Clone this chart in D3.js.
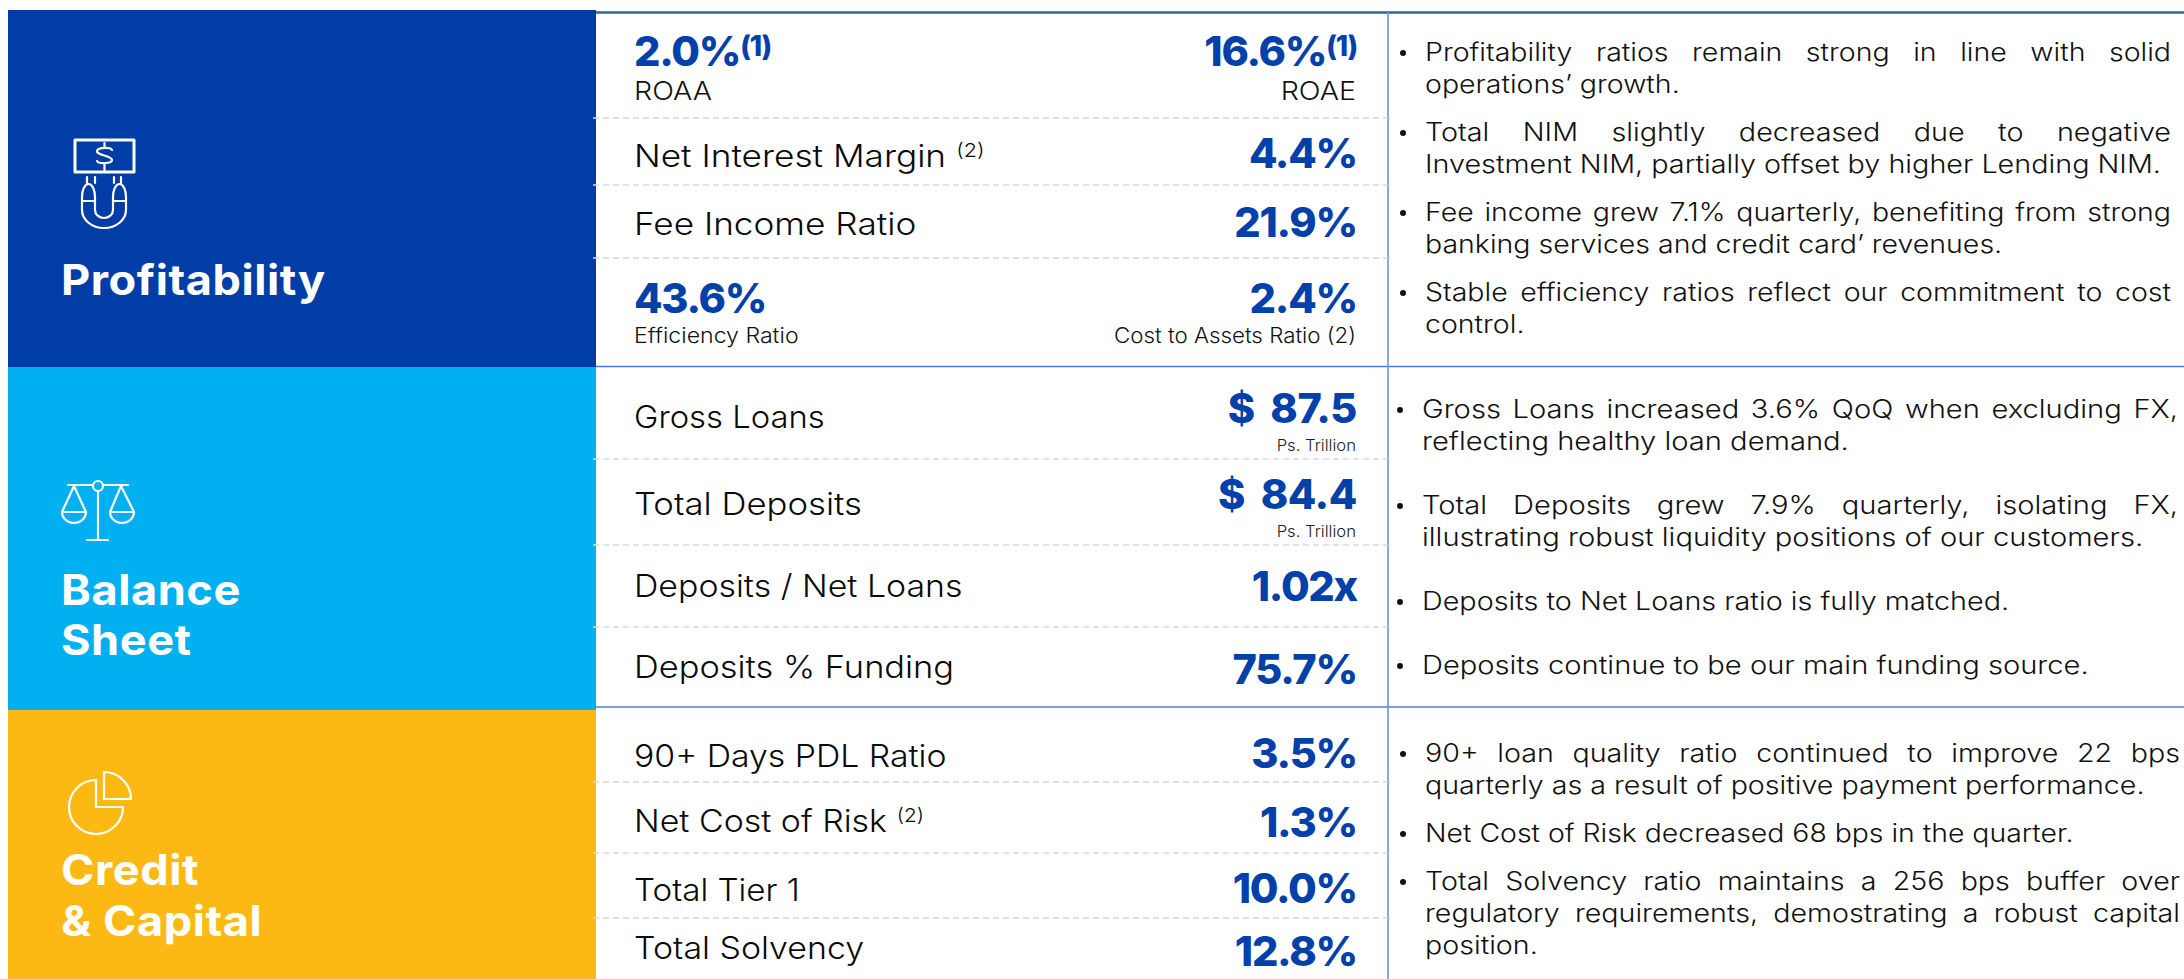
<!DOCTYPE html>
<html><head><meta charset="utf-8">
<script src="https://cdn.jsdelivr.net/npm/d3@7"></script>
<style>
html,body{margin:0;padding:0;background:#fff;overflow:hidden}
svg{display:block}
text{font-family:Inter,"Open Sans",sans-serif}
</style></head><body><svg id="c" width="2184" height="979"></svg>
<script>
// ---------- data ----------
const sectionNames = [["Profitability"], ["Balance", "Sheet"], ["Credit", "& Capital"]];
const metricLabels = ["Net Interest Margin", "Fee Income Ratio", "Gross Loans", "Total Deposits",
  "Deposits / Net Loans", "Deposits % Funding", "90+ Days PDL Ratio", "Net Cost of Risk", "Total Tier 1", "Total Solvency"];
const metricValues = ["4.4%", "21.9%", "$ 87.5", "$ 84.4", "1.02x", "75.7%", "3.5%", "1.3%", "10.0%", "12.8%"];
const metricSups = ["(2)", "", "", "", "", "", "", "(2)", "", ""];
const metricUnits = ["", "", "Ps. Trillion", "Ps. Trillion", "", "", "", "", "", ""];
const stackedValues = ["2.0%", "16.6%", "43.6%", "2.4%"];
const stackedSups = ["(1)", "(1)", "", ""];
const stackedCaptions = ["ROAA", "ROAE", "Efficiency Ratio", "Cost to Assets Ratio (2)"];
const notes = [
  ["Profitability ratios remain strong in line with solid", "operations’ growth."],
  ["Total NIM slightly decreased due to negative", "Investment NIM, partially offset by higher Lending NIM."],
  ["Fee income grew 7.1% quarterly, benefiting from strong", "banking services and credit card’ revenues."],
  ["Stable efficiency ratios reflect our commitment to cost", "control."],
  ["Gross Loans increased 3.6% QoQ when excluding FX,", "reflecting healthy loan demand."],
  ["Total Deposits grew 7.9% quarterly, isolating FX,", "illustrating robust liquidity positions of our customers."],
  ["Deposits to Net Loans ratio is fully matched."],
  ["Deposits continue to be our main funding source."],
  ["90+ loan quality ratio continued to improve 22 bps", "quarterly as a result of positive payment performance."],
  ["Net Cost of Risk decreased 68 bps in the quarter."],
  ["Total Solvency ratio maintains a 256 bps buffer over", "regulatory requirements, demostrating a robust capital", "position."]
];
// ---------- layout ----------
const sectionTops = [10, 367, 710, 979];
const sectionColors = ["#003DA6", "#00B0F0", "#FDB913"];
const sectionBaselines = [[295], [605, 655], [885, 936]];
const dashedY = [118, 185, 258, 459, 545, 627, 782, 853, 918];
const labelBaselines = [167, 235, 428, 515, 597, 678, 767, 832, 901, 959];
const valueBaselines = [168, 237, 423, 509, 601, 684, 768, 837, 903, 966];
const unitBaselines = [0, 0, 451, 537, 0, 0, 0, 0, 0, 0];
const stackedBaselines = [66, 66, 313, 313];
const captionBaselines = [100, 100, 343, 343];
const captionSizes = [26, 26, 21, 21];
const noteBaselines = [61, 141, 221, 301, 418, 514, 610, 674, 762, 842, 890];
const noteLeft = [1425, 1425, 1425, 1425, 1422, 1422, 1422, 1422, 1425, 1425, 1425];
const noteRight = [2171, 2171, 2171, 2171, 2178, 2178, 2178, 2178, 2180, 2180, 2180];
const midLeft = 634, midRight = 1357, divX = 1388, bandL = 8, bandR = 596;
// horizontal stretch: the installed sans is narrower than the reference's face
const labelStretch = [1.135, 1.135, 1.058, 1.12, 1.093, 1.11, 1.09, 1.093, 1.07, 1.095];
const captionStretch = [1.1, 1.1, 1.1, 1.063];
const noteStretch = [1.14, 1.15, 1.14, 1.14, 1.165, 1.165, 1.15, 1.165, 1.145, 1.135, 1.145];
const titleStretch = 1.075, unitStretch = 1.04;
const at = (x, y, sx) => `translate(${x},${y}) scale(${sx},1)`;

const svg = d3.select("#c");
const idx = d3.scaleOrdinal(metricLabels, d3.range(metricLabels.length));

// bands
svg.selectAll("rect.band").data(sectionColors).join("rect").attr("class", "band")
  .attr("x", bandL).attr("width", bandR - bandL)
  .attr("y", (d, i) => sectionTops[i]).attr("height", (d, i) => sectionTops[i + 1] - sectionTops[i])
  .attr("fill", d => d);

// section titles
sectionNames.forEach((lines, i) => {
  svg.selectAll(null).data(lines).join("text")
    .attr("transform", (d, j) => at(61, sectionBaselines[i][j], titleStretch))
    .attr("font-size", 42).attr("font-weight", 700).attr("letter-spacing", "0.012em")
    .attr("fill", "#fff").text(d => d);
});

// rules
svg.append("line").attr("x1", bandR).attr("x2", 2184).attr("y1", 12.5).attr("y2", 12.5).attr("stroke", "#3A5E9E").attr("stroke-width", 2.5);
svg.append("line").attr("x1", bandR).attr("x2", 2184).attr("y1", 366.5).attr("y2", 366.5).attr("stroke", "#4A7BD8").attr("stroke-width", 1.5);
svg.append("line").attr("x1", bandR).attr("x2", 2184).attr("y1", 707).attr("y2", 707).attr("stroke", "#7F9FDC").attr("stroke-width", 2.2);
svg.append("line").attr("x1", divX).attr("x2", divX).attr("y1", 12).attr("y2", 979).attr("stroke", "#6E93DC").attr("stroke-width", 1.6);
svg.selectAll("line.dash").data(dashedY).join("line").attr("class", "dash")
  .attr("x1", 593).attr("x2", divX).attr("y1", d => d).attr("y2", d => d)
  .attr("stroke", "#DADADA").attr("stroke-width", 1.3).attr("stroke-dasharray", "6 4");

const BLUE = "#0340A9", INK = "#111";

// metric rows
svg.selectAll("text.label").data(metricLabels).join("text").attr("class", "label")
  .attr("transform", d => at(midLeft, labelBaselines[idx(d)], labelStretch[idx(d)]))
  .attr("font-size", 31).attr("font-weight", 300).attr("fill", "#0a0a0a")
  .each(function (d) {
    const s = metricSups[idx(d)];
    d3.select(this).append("tspan").text(d);
    if (s) d3.select(this).append("tspan").attr("dx", 9).attr("dy", -10).attr("font-size", 19).text(s);
  });
svg.selectAll("text.value").data(metricValues).join("text").attr("class", "value")
  .attr("x", midRight).attr("y", (d, i) => valueBaselines[i]).attr("text-anchor", "end")
  .attr("font-size", 41.5).attr("font-weight", 800)
  .attr("letter-spacing", d => d[0] === "$" ? "-0.01em" : "-0.03em").attr("word-spacing", 7)
  .attr("fill", BLUE).text(d => d);
svg.selectAll("text.unit").data(metricUnits.filter(Boolean)).join("text").attr("class", "unit")
  .attr("transform", (d, i) => at(midRight - 1, unitBaselines.filter(Boolean)[i], unitStretch)).attr("text-anchor", "end")
  .attr("font-size", 16).attr("font-weight", 300).attr("fill", "#222").text(d => d);

// stacked cells
svg.selectAll("text.stack").data(stackedValues).join("text").attr("class", "stack")
  .attr("x", (d, i) => i % 2 ? midRight : midLeft).attr("y", (d, i) => stackedBaselines[i])
  .attr("text-anchor", (d, i) => i % 2 ? "end" : "start")
  .attr("font-size", 41.5).attr("font-weight", 800).attr("letter-spacing", "-0.03em").attr("fill", BLUE)
  .each(function (d, i) {
    d3.select(this).append("tspan").text(d);
    if (stackedSups[i]) d3.select(this).append("tspan").attr("dy", -10).attr("font-size", 28).text(stackedSups[i]);
  });
svg.selectAll("text.cap").data(stackedCaptions).join("text").attr("class", "cap")
  .attr("transform", (d, i) => at(i % 2 ? midRight - 1 : midLeft, captionBaselines[i], captionStretch[i]))
  .attr("text-anchor", (d, i) => i % 2 ? "end" : "start")
  .attr("font-size", (d, i) => captionSizes[i]).attr("font-weight", 300)
  .attr("fill", "#111").text(d => d);

// notes (justified)
const LH = 32;
notes.forEach((lines, n) => {
  const bx = noteLeft[n] - 22, sx = noteStretch[n];
  svg.append("circle").attr("cx", bx).attr("cy", noteBaselines[n] - 8).attr("r", 3).attr("fill", INK);
  svg.selectAll(null).data(lines).join("text")
    .attr("transform", (d, j) => at(noteLeft[n], noteBaselines[n] + j * LH, sx))
    .attr("font-size", 25).attr("font-weight", 300).attr("fill", INK)
    .text(d => d)
    .each(function (d, j) {
      if (lines.length > 1 && j < lines.length - 1) {
        const w = this.getComputedTextLength(), gaps = d.split(" ").length - 1;
        d3.select(this).attr("word-spacing", ((noteRight[n] - noteLeft[n]) / sx - w) / gaps);
      }
    });
});

// icons
const ic = svg.append("g").attr("fill", "none").attr("stroke", "#fff").attr("stroke-width", 2.2)
  .attr("stroke-linecap", "round").attr("stroke-linejoin", "round");
// money + magnet
ic.append("rect").attr("x", 75).attr("y", 140).attr("width", 59).attr("height", 32).attr("stroke-width", 3);
ic.append("path").attr("d", "M112 150c-1-3-14-3-15 1s15 5 15 9-14 4-15 1M104.500 143v4M104.500 163v9");
ic.append("path").attr("d", "M87 177v6M95 177v6M114 177v6M121 177v6");
ic.append("path").attr("d", "M82 197v13a22 18 0 0 0 44 0v-13a4 8 0 0 0-13 0v13a9 8 0 0 1-18 0v-13a4 8 0 0 0-13 0ZM82 201h13M113 201h13");
// scales
ic.append("path").attr("d", "M68 485h25M103 485h25M98 492v47M87 540h21");
ic.append("circle").attr("cx", 98).attr("cy", 486).attr("r", 5);
ic.append("path").attr("d", "M74 486 62 512h24ZM62 512a12 11 0 0 0 24 0M121 486l-11 26h24ZM110 512a12 11 0 0 0 24 0");
// pie
const arc = d3.arc();
ic.append("path").attr("transform", "translate(96,807)")
  .attr("d", arc({ innerRadius: 0, outerRadius: 27, startAngle: Math.PI / 2, endAngle: 2 * Math.PI }));
ic.append("path").attr("transform", "translate(104,799)")
  .attr("d", arc({ innerRadius: 0, outerRadius: 27, startAngle: 0, endAngle: Math.PI / 2 }));
</script></body></html>
